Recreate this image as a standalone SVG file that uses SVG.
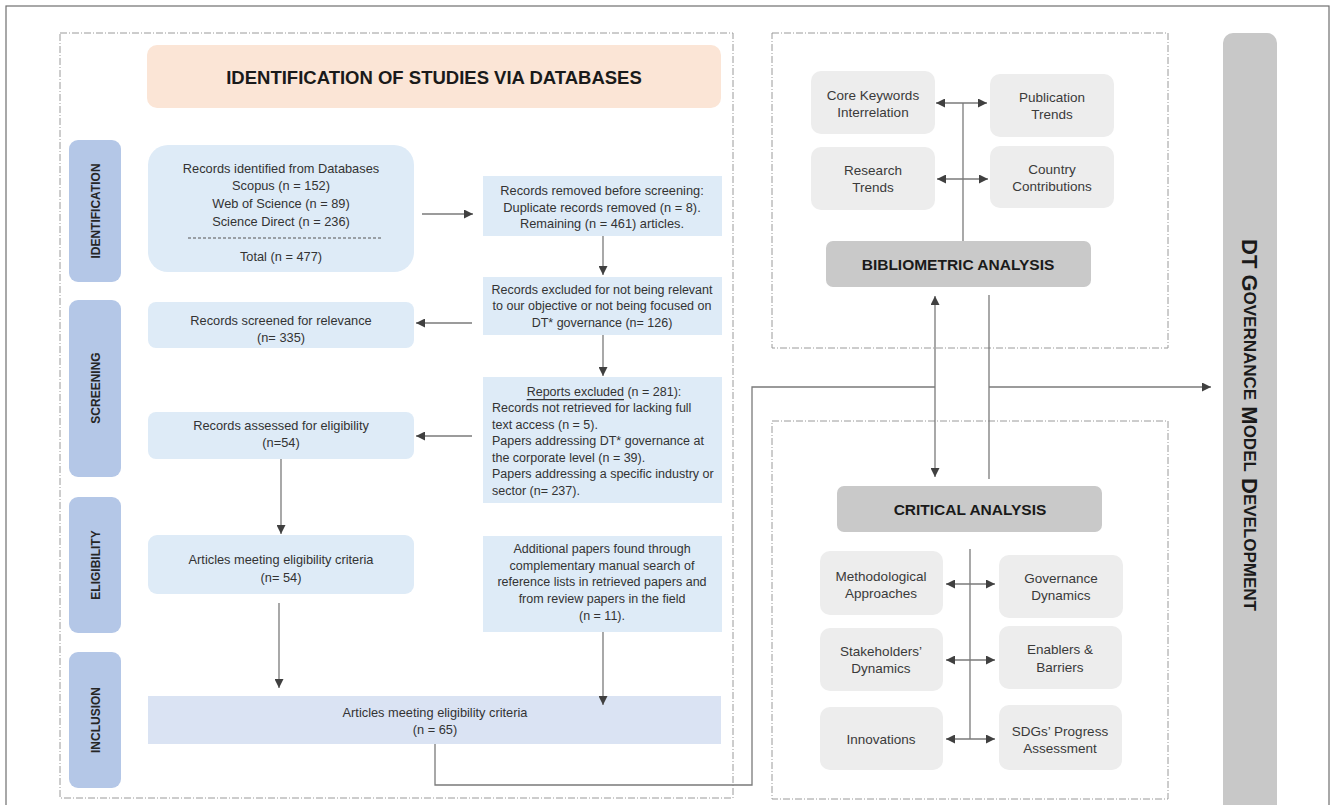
<svg xmlns="http://www.w3.org/2000/svg" width="1330" height="805" viewBox="0 0 1330 805">
<style>
.frame{fill:none;stroke:#6f6f6f;stroke-width:1.2}
.cont{fill:none;stroke:#9a9a9a;stroke-width:1;stroke-dasharray:7 2 1 2}
.blue{fill:#DEEBF7}
.side{fill:#B4C7E7}
.incl{fill:#DAE3F3}
.title{fill:#FBE5D6}
.grey{fill:#EDEDED}
.ana{fill:#C9C9C9}
.bar{fill:#C8C8C8}
text{font-family:"Liberation Sans",Arial,sans-serif;fill:#333;dominant-baseline:central}
.t{font-size:12.8px;text-anchor:middle}
.ts{font-size:12.5px;text-anchor:middle}
.tl{font-size:12.5px;text-anchor:start}
.g{font-size:13.5px;text-anchor:middle;fill:#3a3a3a}
.h{font-size:18.5px;font-weight:bold;text-anchor:middle;fill:#1a1a1a}
.ah{font-size:15.5px;font-weight:bold;text-anchor:middle;fill:#1a1a1a}
.sl{font-size:12px;font-weight:bold;text-anchor:middle;fill:#262626}
.dt{font-weight:bold;text-anchor:middle;fill:#1a1a1a}
.ln{fill:none;stroke:#7a7a7a;stroke-width:1.3}
</style>
<defs>
<marker id="arr" viewBox="0 0 10 10" refX="10" refY="5" markerWidth="10" markerHeight="9" markerUnits="userSpaceOnUse" orient="auto-start-reverse">
<path d="M0,0 L10,5 L0,10 z" fill="#404040"/>
</marker>
</defs>
<rect x="6" y="6" width="1323" height="810" class="frame"/>
<rect x="60" y="33" width="673" height="765" class="cont"/>
<rect x="772" y="33" width="396" height="315" class="cont"/>
<rect x="772" y="421" width="396" height="378" class="cont"/>

<g id="title"><rect x="147" y="45" width="574" height="63" rx="10" class="title"/><text x="434" y="77" class="h">IDENTIFICATION OF STUDIES VIA DATABASES</text></g>

<g id="lbl-identification"><rect x="69" y="140" width="52" height="142" rx="9" class="side"/><text class="sl" transform="translate(96,211) rotate(-90)">IDENTIFICATION</text></g>
<g id="lbl-screening"><rect x="69" y="300" width="52" height="177" rx="9" class="side"/><text class="sl" transform="translate(96,388) rotate(-90)">SCREENING</text></g>
<g id="lbl-eligibility"><rect x="69" y="497" width="52" height="136" rx="9" class="side"/><text class="sl" transform="translate(96,565) rotate(-90)">ELIGIBILITY</text></g>
<g id="lbl-inclusion"><rect x="69" y="652" width="52" height="136" rx="9" class="side"/><text class="sl" transform="translate(96,720) rotate(-90)">INCLUSION</text></g>

<g id="n-identified"><rect x="148" y="145" width="266" height="127" rx="20" class="blue"/>
<text class="t" x="281" y="168">Records identified  from Databases</text>
<text class="t" x="281" y="185">Scopus (n = 152)</text>
<text class="t" x="281" y="203">Web of Science (n = 89)</text>
<text class="t" x="281" y="221">Science Direct (n = 236)</text>
<line x1="188" y1="238" x2="383" y2="238" stroke="#555" stroke-width="1" stroke-dasharray="3 2"/>
<text class="t" x="281" y="256">Total (n = 477)</text></g>

<g id="n-removed"><rect x="483" y="176" width="239" height="60" class="blue"/>
<text class="t" x="602" y="190">Records removed before screening:</text>
<text class="t" x="602" y="207">Duplicate records removed (n = 8).</text>
<text class="t" x="602" y="223">Remaining (n = 461) articles.</text></g>

<g id="n-excluded1"><rect x="483" y="277" width="239" height="58" class="blue"/>
<text class="ts" x="602" y="290">Records excluded for not being relevant</text>
<text class="ts" x="602" y="306">to our objective or not being focused on</text>
<text class="ts" x="602" y="323">DT* governance (n= 126)</text></g>

<g id="n-screened"><rect x="148" y="302" width="266" height="46" rx="8" class="blue"/>
<text class="t" x="281" y="320">Records screened for relevance</text>
<text class="t" x="281" y="337">(n= 335)</text></g>

<g id="n-reports"><rect x="483" y="377" width="239" height="126" class="blue"/>
<text class="ts" x="604" y="392"><tspan text-decoration="underline">Reports excluded</tspan> (n = 281):</text>
<text class="tl" x="492" y="408">Records not retrieved for lacking full</text>
<text class="tl" x="492" y="425">text access (n = 5).</text>
<text class="tl" x="492" y="441">Papers addressing DT* governance at</text>
<text class="tl" x="492" y="458">the corporate level (n = 39).</text>
<text class="tl" x="492" y="474">Papers addressing a specific industry or</text>
<text class="tl" x="492" y="491">sector (n= 237).</text></g>

<g id="n-assessed"><rect x="148" y="412" width="266" height="47" rx="8" class="blue"/>
<text class="t" x="281" y="425">Records assessed for eligibility</text>
<text class="t" x="281" y="442">(n=54)</text></g>

<g id="n-eligible"><rect x="148" y="535" width="266" height="59" rx="9" class="blue"/>
<text class="t" x="281" y="559">Articles meeting eligibility criteria</text>
<text class="t" x="281" y="577">(n= 54)</text></g>

<g id="n-additional"><rect x="483" y="536" width="239" height="96" class="blue"/>
<text class="ts" x="602" y="549">Additional papers found through</text>
<text class="ts" x="602" y="566">complementary manual search of</text>
<text class="ts" x="602" y="582">reference lists in retrieved papers and</text>
<text class="ts" x="602" y="599">from review papers in the field</text>
<text class="ts" x="602" y="616">(n = 11).</text></g>

<g id="n-included"><rect x="148" y="696" width="573" height="48" class="incl"/>
<text class="t" x="435" y="712">Articles meeting eligibility criteria</text>
<text class="t" x="435" y="729">(n = 65)</text></g>

<g id="n-core"><rect x="811" y="71" width="124" height="63" rx="10" class="grey"/>
<text class="g" x="873" y="95">Core Keywords</text><text class="g" x="873" y="112">Interrelation</text></g>
<g id="n-pub"><rect x="990" y="74" width="124" height="63" rx="10" class="grey"/>
<text class="g" x="1052" y="97">Publication</text><text class="g" x="1052" y="114">Trends</text></g>
<g id="n-research"><rect x="811" y="147" width="124" height="63" rx="10" class="grey"/>
<text class="g" x="873" y="170">Research</text><text class="g" x="873" y="187">Trends</text></g>
<g id="n-country"><rect x="990" y="146" width="124" height="62" rx="10" class="grey"/>
<text class="g" x="1052" y="169">Country</text><text class="g" x="1052" y="186">Contributions</text></g>
<g id="n-biblio"><rect x="826" y="241" width="265" height="46" rx="7" class="ana"/>
<text class="ah" x="958" y="264">BIBLIOMETRIC ANALYSIS</text></g>

<g id="n-critical"><rect x="837" y="486" width="265" height="46" rx="7" class="ana"/>
<text class="ah" x="970" y="509">CRITICAL ANALYSIS</text></g>
<g id="n-method"><rect x="820" y="551" width="123" height="64" rx="10" class="grey"/>
<text class="g" x="881" y="576">Methodological</text><text class="g" x="881" y="593">Approaches</text></g>
<g id="n-gov"><rect x="999" y="555" width="124" height="63" rx="10" class="grey"/>
<text class="g" x="1061" y="578">Governance</text><text class="g" x="1061" y="595">Dynamics</text></g>
<g id="n-stake"><rect x="820" y="628" width="123" height="63" rx="10" class="grey"/>
<text class="g" x="881" y="651">Stakeholders’</text><text class="g" x="881" y="668">Dynamics</text></g>
<g id="n-enablers"><rect x="999" y="626" width="123" height="63" rx="10" class="grey"/>
<text class="g" x="1060" y="649">Enablers &amp;</text><text class="g" x="1060" y="667">Barriers</text></g>
<g id="n-innov"><rect x="820" y="707" width="123" height="63" rx="10" class="grey"/>
<text class="g" x="881" y="739">Innovations</text></g>
<g id="n-sdg"><rect x="999" y="705" width="123" height="65" rx="10" class="grey"/>
<text class="g" x="1060" y="731">SDGs’ Progress</text><text class="g" x="1060" y="748">Assessment</text></g>

<g id="n-dtgov"><path d="M1223,43 a10,10 0 0 1 10,-10 h34 a10,10 0 0 1 10,10 V805 H1223 z" class="bar"/>
<text class="dt" transform="translate(1250,425) rotate(90)"><tspan font-size="22">DT G</tspan><tspan font-size="17">OVERNANCE</tspan><tspan font-size="22"> M</tspan><tspan font-size="17">ODEL</tspan><tspan font-size="22"> D</tspan><tspan font-size="17">EVELOPMENT</tspan></text></g>

<g id="connectors">
<path class="ln" d="M422,214 H473" marker-end="url(#arr)"/>
<path class="ln" d="M603,236 V275" marker-end="url(#arr)"/>
<path class="ln" d="M472,323 H416" marker-end="url(#arr)"/>
<path class="ln" d="M603,335 V376" marker-end="url(#arr)"/>
<path class="ln" d="M472,436 H416" marker-end="url(#arr)"/>
<path class="ln" d="M281,459 V534" marker-end="url(#arr)"/>
<path class="ln" d="M279,603 V688" marker-end="url(#arr)"/>
<path class="ln" d="M603,632 V705" marker-end="url(#arr)"/>
<path class="ln" d="M435,744 V785 H752 V387 H935"/>
<path class="ln" d="M935,296 V477" marker-start="url(#arr)" marker-end="url(#arr)"/>
<path class="ln" d="M989,295 V479"/>
<path class="ln" d="M989,387 H1211" marker-end="url(#arr)"/>
<path class="ln" d="M963,103 V241"/>
<path class="ln" d="M936,103 H987" marker-start="url(#arr)" marker-end="url(#arr)"/>
<path class="ln" d="M937,179 H988" marker-start="url(#arr)" marker-end="url(#arr)"/>
<path class="ln" d="M970,549 V739"/>
<path class="ln" d="M946,584 H995" marker-start="url(#arr)" marker-end="url(#arr)"/>
<path class="ln" d="M946,660 H995" marker-start="url(#arr)" marker-end="url(#arr)"/>
<path class="ln" d="M946,739 H995" marker-start="url(#arr)" marker-end="url(#arr)"/>
</g>
</svg>
